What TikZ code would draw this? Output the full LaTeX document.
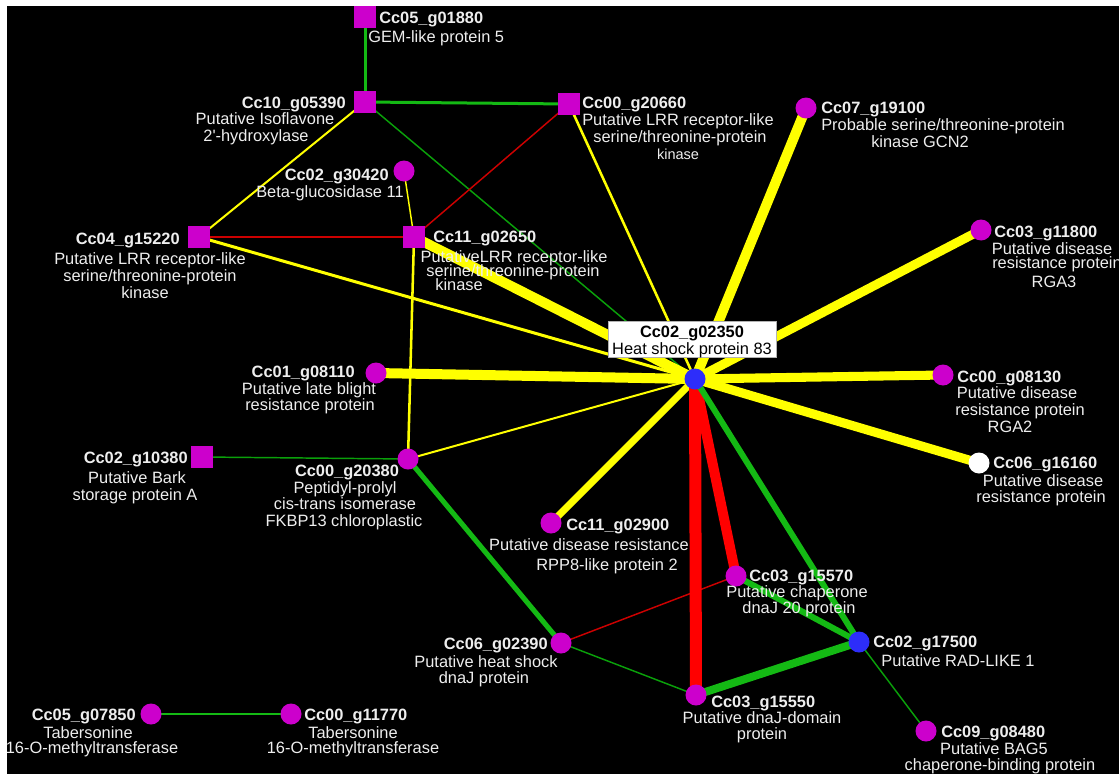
\documentclass[tikz,border=0pt]{standalone}
\usepackage{fontspec}
\setmainfont{Liberation Sans}
\definecolor{mag}{RGB}{204,0,204}
\definecolor{hubblue}{RGB}{45,45,250}
\definecolor{yel}{RGB}{255,255,0}
\definecolor{grn}{RGB}{20,185,20}
\definecolor{thingrn}{RGB}{10,160,10}
\definecolor{redc}{RGB}{255,0,0}
\definecolor{thinred}{RGB}{205,0,0}
\definecolor{txtc}{RGB}{238,238,238}
\pgfdeclarelayer{bglayer}
\pgfdeclarelayer{edgelayer}
\pgfsetlayers{bglayer,edgelayer,main}
\begin{document}
\begin{tikzpicture}[x=0.75pt,y=-0.75pt,
  sq/.style={rectangle,fill=mag,minimum size=16.5pt,inner sep=0pt},
  ci/.style={circle,fill=mag,minimum size=15.75pt,inner sep=0pt},
  bci/.style={circle,fill=hubblue,minimum size=15.75pt,inner sep=0pt},
  wci/.style={circle,fill=white,minimum size=15.75pt,inner sep=0pt},
  lab/.style={font=\fontsize{12.3}{14}\selectfont\bfseries,text=txtc,inner sep=0pt},
  dsc/.style={font=\fontsize{12.3}{14}\selectfont,text=txtc,inner sep=0pt},
  ye/.style={draw=yel,line width=#1},
  ge/.style={draw=grn,line width=#1},
  tge/.style={draw=thingrn,line width=#1},
  re/.style={draw=redc,line width=#1},
  tre/.style={draw=thinred,line width=#1},
]
\useasboundingbox (0,0) rectangle (1119,774);
% nodes
\node[sq] (g0501880) at (365,17) {};
\node[sq] (g1005390) at (365,102) {};
\node[sq] (g0020660) at (569,104) {};
\node[ci] (g0719100) at (806,108) {};
\node[ci] (g0230420) at (404,171) {};
\node[sq] (g0415220) at (199,237) {};
\node[sq] (g1102650) at (414,237) {};
\node[ci] (g0311800) at (981,230) {};
\node[bci] (hub) at (695,379) {};
\node[ci] (g0108110) at (376,373) {};
\node[ci] (g0008130) at (943,375) {};
\node[sq] (g0210380) at (202,457) {};
\node[ci] (g0020380) at (408,459) {};
\node[wci] (g0616160) at (979,463) {};
\node[ci] (g1102900) at (551,523) {};
\node[ci] (g0315570) at (736,576) {};
\node[ci] (g0602390) at (561,643) {};
\node[bci] (g0217500) at (859,642) {};
\node[ci] (g0315550) at (696,695) {};
\node[ci] (g0909480) at (926,731) {};
\node[ci] (g0507850) at (151,714) {};
\node[ci] (g0011770) at (291,714) {};

\begin{pgfonlayer}{bglayer}
  \fill[white] (0,0) rectangle (1119,774);
  \fill[black] (7,6) rectangle (1119,774);
\end{pgfonlayer}

\begin{pgfonlayer}{edgelayer}
  \draw[ge=2.25pt] (g0501880.center) -- (g1005390.center);
  \draw[ge=2.25pt] (g1005390.center) -- (g0020660.center);
  \draw[tge=1.1pt] (g1005390.center) -- (hub.center);
  \draw[ye=1.5pt] (g1005390.center) -- (g0415220.center);
  \draw[tre=1.1pt] (g0020660.center) -- (g1102650.center);
  \draw[ye=1.9pt] (g0020660.center) -- (hub.center);
  \draw[ye=1.1pt] (g0230420.center) -- (g1102650.center);
  \draw[tre=1.5pt] (g0415220.center) -- (g1102650.center);
  \draw[ye=2.25pt] (g0415220.center) -- (hub.center);
  \draw[ye=7.5pt] (g1102650.center) -- (hub.center);
  \draw[ye=1.9pt] (g1102650.center) -- (g0020380.center);
  \draw[ye=7.5pt] (g0719100.center) -- (hub.center);
  \draw[ye=6.8pt] (g0311800.center) -- (hub.center);
  \draw[ye=7.5pt] (g0108110.center) -- (hub.center);
  \draw[ye=6.8pt] (g0008130.center) -- (hub.center);
  \draw[ye=6.8pt] (g0616160.center) -- (hub.center);
  \draw[ye=5.3pt] (g1102900.center) -- (hub.center);
  \draw[ye=1.5pt] (g0020380.center) -- (hub.center);
  \draw[tge=1.1pt] (g0210380.center) -- (g0020380.center);
  \draw[ge=3.8pt] (g0020380.center) -- (g0602390.center);
  \draw[tre=1.1pt] (g0602390.center) -- (g0315570.center);
  \draw[tge=1.1pt] (g0602390.center) -- (g0315550.center);
  \draw[re=9pt] (hub.center) -- (g0315550.center);
  \draw[re=7.5pt] (hub.center) -- (g0315570.center);
  \draw[ge=4.5pt] (hub.center) -- (g0217500.center);
  \draw[ge=4.5pt] (g0315570.center) -- (g0217500.center);
  \draw[ge=6pt] (g0315550.center) -- (g0217500.center);
  \draw[tge=1.1pt] (g0217500.center) -- (g0909480.center);
  \draw[ge=1.5pt] (g0507850.center) -- (g0011770.center);
\end{pgfonlayer}

% hub label box
\node[draw=gray!60,fill=white,line width=0.5pt,minimum width=126pt,minimum height=27pt,inner sep=0pt] (hubbox) at (692,339) {};
\node[lab,text=black,anchor=base] (hubA) at (692,337) {Cc02\_g02350};
\node[dsc,text=black,anchor=base] (hubB) at (692,354) {Heat shock protein 83};

% labels
\node[lab,anchor=base west] (t1a) at (379,24) {Cc05\_g01880};
\node[dsc,anchor=base west] (t1b) at (368,43) {GEM-like protein 5};

\node[lab,anchor=base east] (t2a) at (346,108) {Cc10\_g05390};
\node[dsc,anchor=base] (t2b) at (265,124) {Putative Isoflavone};
\node[dsc,anchor=base] (t2c) at (256,141) {2\textquotesingle-hydroxylase};

\node[lab,anchor=base east] (t3a) at (389,180) {Cc02\_g30420};
\node[dsc,anchor=base] (t3b) at (330,197) {Beta-glucosidase 11};

\node[lab,anchor=base east] (t4a) at (180,244) {Cc04\_g15220};
\node[dsc,anchor=base] (t4b) at (150,264) {Putative LRR receptor-like};
\node[dsc,anchor=base] (t4c) at (150,281) {serine/threonine-protein};
\node[dsc,anchor=base] (t4d) at (145,298) {kinase};

\node[lab,anchor=base west] (t5a) at (433,242) {Cc11\_g02650};
\node[dsc,anchor=base] (t5b) at (514,262) {PutativeLRR receptor-like};
\node[dsc,anchor=base] (t5c) at (513,276) {serine/threonine-protein};
\node[dsc,anchor=base] (t5d) at (459,290) {kinase};

\node[lab,anchor=base west] (t6a) at (582,108) {Cc00\_g20660};
\node[dsc,anchor=base] (t6b) at (678,125) {Putative LRR receptor-like};
\node[dsc,anchor=base] (t6c) at (680,142) {serine/threonine-protein};
\node[dsc,anchor=base,font=\fontsize{10.9}{12}\selectfont] (t6d) at (678,159) {kinase};

\node[lab,anchor=base west] (t7a) at (821,113) {Cc07\_g19100};
\node[dsc,anchor=base] (t7b) at (943,130) {Probable serine/threonine-protein};
\node[dsc,anchor=base] (t7c) at (920,147) {kinase GCN2};

\node[lab,anchor=base west] (t8a) at (994,237) {Cc03\_g11800};
\node[dsc,anchor=base] (t8b) at (1052,254) {Putative disease};
\node[dsc,anchor=base west] (t8c) at (992,268) {resistance protein};
\node[dsc,anchor=base] (t8d) at (1054,287) {RGA3};

\node[lab,anchor=base west] (t9a) at (957,382) {Cc00\_g08130};
\node[dsc,anchor=base] (t9b) at (1017,398) {Putative disease};
\node[dsc,anchor=base] (t9c) at (1020,415) {resistance protein};
\node[dsc,anchor=base] (t9d) at (1010,432) {RGA2};

\node[lab,anchor=base east] (t10a) at (355,377) {Cc01\_g08110};
\node[dsc,anchor=base] (t10b) at (309,394) {Putative late blight};
\node[dsc,anchor=base] (t10c) at (310,410) {resistance protein};

\node[lab,anchor=base west] (t11a) at (993,468) {Cc06\_g16160};
\node[dsc,anchor=base] (t11b) at (1043,486) {Putative disease};
\node[dsc,anchor=base] (t11c) at (1041,502) {resistance protein};

\node[lab,anchor=base east] (t12a) at (188,463) {Cc02\_g10380};
\node[dsc,anchor=base] (t12b) at (137,483) {Putative Bark};
\node[dsc,anchor=base] (t12c) at (135,500) {storage protein A};

\node[lab,anchor=base] (t13a) at (347,476) {Cc00\_g20380};
\node[dsc,anchor=base] (t13b) at (345,493) {Peptidyl-prolyl};
\node[dsc,anchor=base] (t13c) at (345,509) {cis-trans isomerase};
\node[dsc,anchor=base] (t13d) at (344,526) {FKBP13 chloroplastic};

\node[lab,anchor=base west] (t14a) at (566,530) {Cc11\_g02900};
\node[dsc,anchor=base] (t14b) at (589,550) {Putative disease resistance};
\node[dsc,anchor=base] (t14c) at (607,570) {RPP8-like protein 2};

\node[lab,anchor=base west] (t15a) at (749,581) {Cc03\_g15570};
\node[dsc,anchor=base] (t15b) at (797,597) {Putative chaperone};
\node[dsc,anchor=base] (t15c) at (799,613) {dnaJ 20 protein};

\node[lab,anchor=base east] (t16a) at (548,649) {Cc06\_g02390};
\node[dsc,anchor=base] (t16b) at (486,667) {Putative heat shock};
\node[dsc,anchor=base] (t16c) at (484,683) {dnaJ protein};

\node[lab,anchor=base west] (t17a) at (873,647) {Cc02\_g17500};
\node[dsc,anchor=base] (t17b) at (958,666) {Putative RAD-LIKE 1};

\node[lab,anchor=base west] (t18a) at (711,707) {Cc03\_g15550};
\node[dsc,anchor=base] (t18b) at (762,723) {Putative dnaJ-domain};
\node[dsc,anchor=base] (t18c) at (762,739) {protein};

\node[lab,anchor=base west] (t19a) at (941,737) {Cc09\_g08480};
\node[dsc,anchor=base] (t19b) at (994,754) {Putative BAG5};
\node[dsc,anchor=base] (t19c) at (1000,770) {chaperone-binding protein};

\node[lab,anchor=base east] (t20a) at (136,720) {Cc05\_g07850};
\node[dsc,anchor=base] (t20b) at (88,738) {Tabersonine};
\node[dsc,anchor=base] (t20c) at (92,753) {16-O-methyltransferase};

\node[lab,anchor=base west] (t21a) at (304,720) {Cc00\_g11770};
\node[dsc,anchor=base] (t21b) at (353,738) {Tabersonine};
\node[dsc,anchor=base] (t21c) at (353,753) {16-O-methyltransferase};
\end{tikzpicture}
\end{document}
